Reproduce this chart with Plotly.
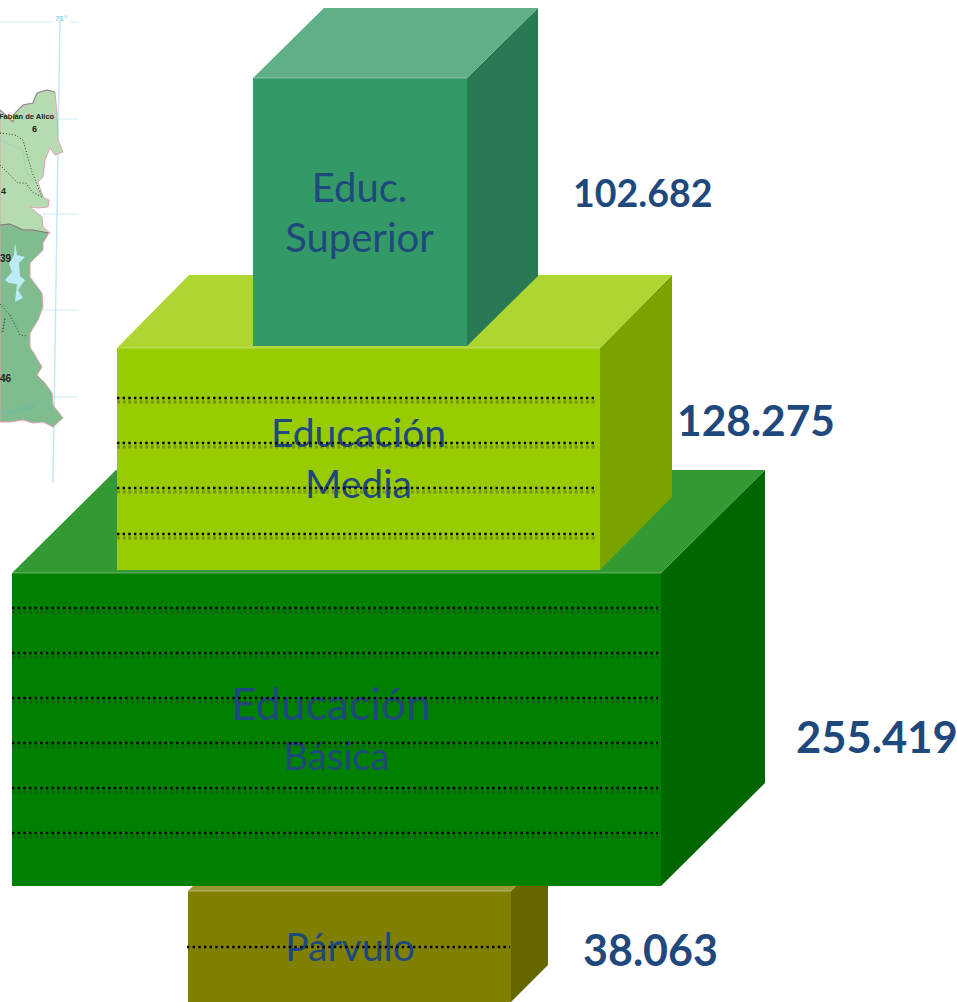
import plotly.graph_objects as go

# ---- data ----
categories = [["Párvulo"], ["Educación", "Básica"], ["Educación", "Media"], ["Educ.", "Superior"]]
students = [38063, 255419, 128275, 102682]
map_labels = ["Fabián de Alico", "6", "4", "39", "46"]

# ---- block styles and layout ----
front = ["#808000", "#008000", "#99CC00", "#339966"]
top = ["#999933", "#339933", "#ADD633", "#5FAF87"]
side = ["#666600", "#006600", "#7AA300", "#297A52"]
rects = [(188, 891, 511, 1002, 37, 37), (12, 573, 661, 886, 104, 103),
         (117, 348, 600, 570, 72, 73), (253, 78, 467, 346, 71, 70)]
dotted_rows = [[947], [608, 653, 698, 743, 788, 833], [398, 443, 488, 534], []]
dot_spans = [(187, 510), (12, 658), (117, 596), (0, 0)]
shadow = [False, True, True, False]
label_x = [[350], [331, 336.5], [358.5, 358.5], [359.5, 359.5]]
label_y = [[951], [709, 760], [437, 488], [192, 242]]
label_size = [[39], [44.5, 38], [39, 39], [40, 40]]
value_pos = [(650, 949), (877, 736), (756, 419), (642, 192)]
value_size = [43, 43.5, 42.5, 37.5]
TXT = "#1F497D"

fig = go.Figure()


def poly(xs, ys, fill, line=None, width=0):
    fig.add_trace(go.Scatter(x=xs + xs[:1], y=ys + ys[:1], mode="lines", fill="toself",
                             fillcolor=fill, line=dict(color=line or fill, width=width),
                             hoverinfo="skip", showlegend=False))


def path(xs, ys, color, width=1, dash=None):
    fig.add_trace(go.Scatter(x=xs, y=ys, mode="lines", line=dict(color=color, width=width, dash=dash),
                             hoverinfo="skip", showlegend=False))


# ---- map fragment ----
map_upper = [(0, 110), (13, 122), (15, 113), (23, 105), (33, 103), (37, 93), (47, 90), (55, 92),
             (57, 113), (58, 140), (63, 152), (55, 155), (50, 148), (45, 160), (43, 177), (38, 182),
             (43, 197), (49, 200), (48, 207), (38, 208), (30, 207), (42, 217), (43, 227), (50, 233),
             (33, 230), (23, 230), (10, 224), (0, 225)]
map_lower = [(0, 225), (10, 224), (23, 230), (33, 230), (49, 233), (43, 243), (43, 250), (30, 263),
             (30, 277), (42, 293), (43, 307), (38, 320), (30, 333), (30, 347), (42, 367), (37, 375),
             (45, 383), (52, 393), (53, 405), (63, 418), (53, 427), (43, 422), (33, 423), (23, 420),
             (10, 422), (0, 422)]
lake = [(15, 243), (17, 255), (25, 257), (19, 263), (20, 276), (25, 280), (18, 290), (23, 298),
        (15, 302), (16, 290), (17, 284), (9, 283), (5, 280), (12, 272), (9, 264), (14, 255)]
for y, x0, x1 in [(22, 0, 53), (22, 70, 78), (119, 55, 78), (214, 40, 78), (310, 40, 78), (397, 50, 78)]:
    path([x0, x1], [y, y], "#CFEAF3", 1)
path([60, 53], [16, 483], "#C4E8F4", 1.5)

poly([p[0] for p in map_lower], [p[1] for p in map_lower], "#7FBD8F", "#E3A0B4", 1)
poly([p[0] for p in map_upper], [p[1] for p in map_upper], "#B5DBB0", "#E3A0B4", 1)
path([p[0] for p in map_upper[:8]], [p[1] for p in map_upper[:8]], "#8F8F8F", 1.2)
path([0, 10, 23, 33, 48], [225, 224, 230, 230, 233], "#6E7E72", 1.2)
poly([p[0] for p in lake], [p[1] for p in lake], "#BDEBF5")
for xs, ys in [([0, 15, 23, 27, 32, 42], [133, 135, 140, 155, 172, 197]),
               ([0, 10, 18, 26, 32, 42], [165, 175, 183, 183, 192, 197]),
               ([0, 10, 20, 27], [304, 315, 335, 336]),
               ([2, 5, 3], [332, 318, 332])]:
    path(xs, ys, "#2F3F35", 1, "1px,2px")
path([0, 23, 26, 40], [140, 150, 170, 195], "#8FCFC0", 0.6)
path([0, 20, 40, 52], [414, 407, 400, 412], "#6DBDA8", 0.6)

# ---- blocks: faces, then the label, then the dotted rows over it ----
for i, (x0, y0, x1, y1, dx, dy) in enumerate(rects):
    poly([x1, x1 + dx, x1 + dx, x1], [y0, y0 - dy, y1 - dy, y1], side[i])
    poly([x0, x1, x1 + dx, x0 + dx], [y0, y0, y0 - dy, y0 - dy], top[i])
    poly([x0, x1, x1, x0], [y0, y0, y1, y1], front[i])
    path([x0, x1], [y0, y0], "rgba(255,255,255,0.35)", 1)
    fig.add_trace(go.Scatter(x=label_x[i], y=label_y[i], text=categories[i], mode="text",
                             textposition="middle center", hoverinfo="skip", showlegend=False,
                             textfont=dict(family="Lato", size=label_size[i], color=TXT)))
    for row in dotted_rows[i]:
        if shadow[i]:
            path(list(dot_spans[i]), [row + 4, row + 4], "rgba(50,50,50,0.35)", 3, "3px,2.65px")
        path(list(dot_spans[i]), [row, row], "#000000", 2.4, "2.4px,3.25px")

# ---- text ----
ann = []
for v, (x, y), size in zip(students, value_pos, value_size):
    ann.append(dict(x=x, y=y, text=f"{v:,}".replace(",", "."), showarrow=False, xref="x", yref="y",
                    font=dict(family="Lato", size=size, color=TXT, weight="bold")))
ann.append(dict(x=57, y=116, text=map_labels[0], showarrow=False, xanchor="right", xref="x", yref="y",
                font=dict(family="Liberation Sans", size=7.5, color="#222222", weight="bold")))
for t, x, y, size in zip(map_labels[1:], [34, 3, 6, 6], [129, 191, 258, 378], [9, 9, 10, 10]):
    ann.append(dict(x=x, y=y, text=t, showarrow=False, xref="x", yref="y",
                    font=dict(family="Liberation Sans", size=size, color="#222222", weight="bold")))
ann.append(dict(x=61, y=18, text="71°", showarrow=False, xref="x", yref="y",
                font=dict(family="Liberation Sans", size=8, color="#8FD3E8", weight="bold")))
ann.append(dict(x=20, y=410, text="Río Chillán", textangle=-15, showarrow=False, xref="x", yref="y",
                font=dict(family="Liberation Sans", size=6, color="#5FB8B0")))

fig.update_layout(
    width=957, height=1002, margin=dict(l=0, r=0, t=0, b=0),
    paper_bgcolor="white", plot_bgcolor="white", annotations=ann,
    xaxis=dict(range=[0, 957], visible=False, fixedrange=True),
    yaxis=dict(range=[1002, 0], visible=False, fixedrange=True),
)
fig.write_html("out.html", config=dict(displayModeBar=False),
               post_script="document.body.style.margin='0';document.documentElement.style.overflow='hidden';")
